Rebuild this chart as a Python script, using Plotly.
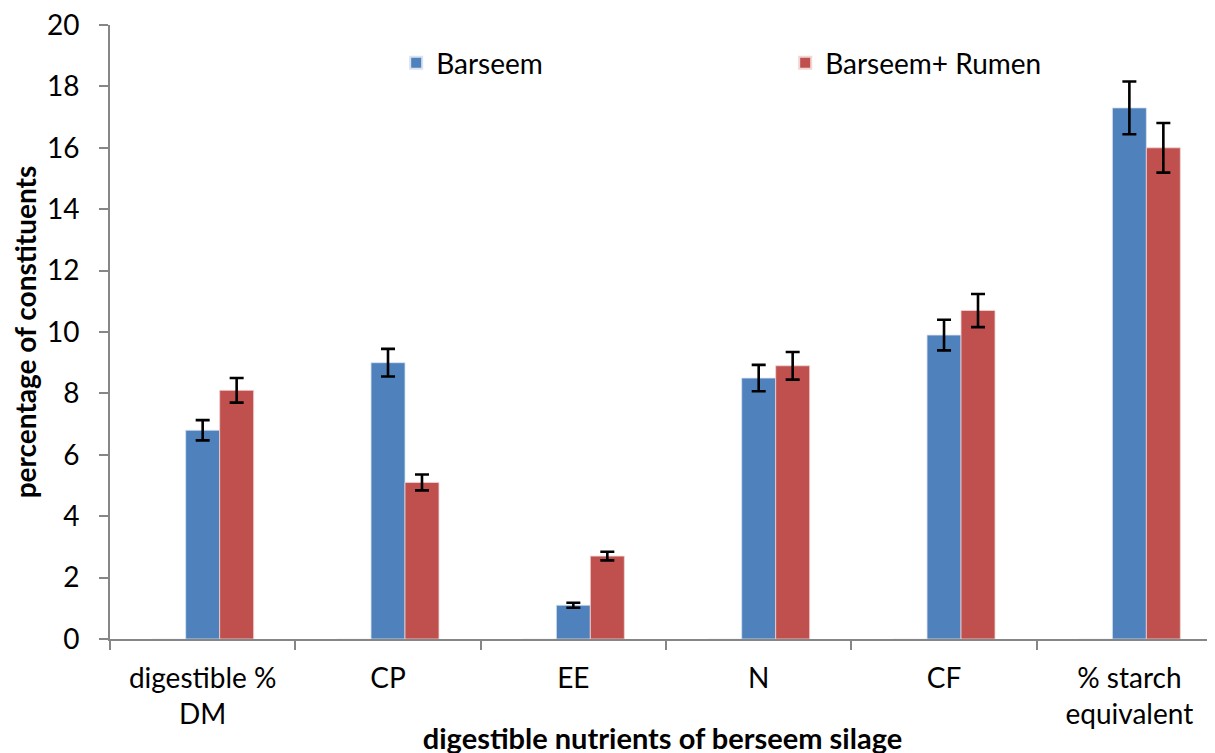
import plotly.graph_objects as go

categories = ["digestible %<br>DM", "CP", "EE", "N", "CF", "% starch<br>equivalent"]
barseem = [6.8, 9.0, 1.1, 8.5, 9.9, 17.3]
barseem_err = [0.33, 0.45, 0.08, 0.43, 0.5, 0.86]
rumen = [8.1, 5.1, 2.7, 8.9, 10.7, 16.0]
rumen_err = [0.4, 0.26, 0.14, 0.45, 0.54, 0.81]
empty_series = [0, 0, 0, 0, 0, 0]
y_ticks = [0, 2, 4, 6, 8, 10, 12, 14, 16, 18, 20]

FONT = "Lato"

fig = go.Figure()
fig.add_trace(go.Bar(x=categories, y=empty_series, name="", showlegend=False,
                     marker=dict(color="#4F81BD"), hoverinfo="skip"))
fig.add_trace(go.Bar(x=categories, y=barseem, name="Barseem",
                     marker=dict(color="#4F81BD", line=dict(color="#D9E2F0", width=0.8)),
                     error_y=dict(type="data", array=barseem_err, color="black",
                                  thickness=2.6, width=7)))
fig.add_trace(go.Bar(x=categories, y=rumen, name="Barseem+ Rumen",
                     marker=dict(color="#C0504D", line=dict(color="#F0D6D5", width=0.8)),
                     error_y=dict(type="data", array=rumen_err, color="black",
                                  thickness=2.6, width=7)))

fig.update_layout(
    width=1215, height=753,
    margin=dict(l=102, r=8, t=17, b=122, autoexpand=False),
    paper_bgcolor="white", plot_bgcolor="white",
    barmode="group", bargap=0.45, bargroupgap=0,
    font=dict(family=FONT, size=28, color="black"),
    legend=dict(orientation="h", x=0.259, y=0.938, xanchor="left", yanchor="middle",
                font=dict(size=28), entrywidth=344, entrywidthmode="pixels",
                itemsizing="constant", bgcolor="rgba(0,0,0,0)"),
    xaxis=dict(
        range=[-0.5, 5.462],
        showline=True, linecolor="#868686", linewidth=2,
        ticks="outside", tickson="boundaries", ticklen=9, tickcolor="#868686", tickwidth=2,
        tickfont=dict(size=28), ticklabelstandoff=13, ticklabeloverflow="allow",
        title=dict(text="<b>digestible nutrients of berseem silage</b>", font=dict(size=29), standoff=0),
        showgrid=False, zeroline=False,
    ),
    yaxis=dict(
        range=[0, 20], tickmode="array", tickvals=y_ticks,
        ticktext=[f"{v}\u2002" for v in y_ticks],
        showline=True, linecolor="#868686", linewidth=2,
        ticks="outside", ticklen=9, tickcolor="#868686", tickwidth=2,
        tickfont=dict(size=28), ticklabeloverflow="allow",
        title=dict(text="<b>percentage of constituents</b>", font=dict(size=28), standoff=3),
        showgrid=False, zeroline=False,
    ),
)

fig.write_html("out.html")
